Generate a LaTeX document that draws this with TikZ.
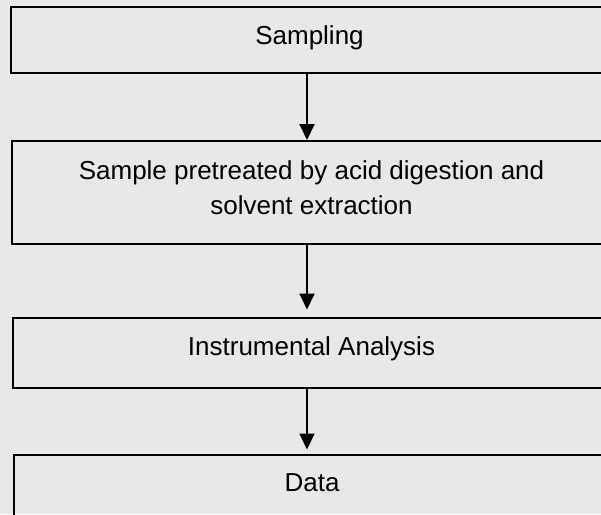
\documentclass[tikz,border=0pt]{standalone}
\usepackage{fontspec}
\setmainfont{Liberation Sans}
\usepackage{tikz}
\usetikzlibrary{arrows.meta}
\definecolor{bggray}{RGB}{232,232,232}
\tikzstyle{stage} = [draw, line width=2pt, anchor=north west, minimum width=650pt, inner sep=0pt]
\tikzstyle{caption} = [align=center, font=\fontsize{26}{35}\selectfont, inner sep=0pt]
\tikzstyle{flow} = [line width=2pt, -{Triangle[width=15pt,length=16pt]}]

\begin{document}
\begin{tikzpicture}[x=1pt, y=-1pt]
				\path[fill=bggray, use as bounding box] (0,0) rectangle (601,514);
				\clip (0,0) rectangle (601,514);
				
				% boxes, running off the right edge
				\node [stage, minimum height=66.3pt] (B1) at (9.5,5.7) {};
				\node [stage, minimum height=103pt]  (B2) at (10.5,140) {};
				\node [stage, minimum height=70pt]   (B3) at (11.5,316.5) {};
				\node [stage, minimum height=90pt]   (B4) at (12.5,453.5) {};
				
				\node [caption, anchor=base] (T1) at (309.5,44.5) {Sampling};
				\node [caption] (T2) at (311.5,188) {Sample pretreated by acid digestion and\\solvent extraction};
				\node [caption, anchor=base] (T3) at (311.5,355) {Instrumental Analysis};
				\node [caption, anchor=base] (T4) at (312,491.7) {Data};
				
				\coordinate (spine) at (307,0);
				\draw [flow] (B1.south -| spine) -- (B2.north -| spine);
				\draw [flow, shorten >=7pt] (B2.south -| spine) -- (B3.north -| spine);
				\draw [flow, shorten >=4pt] (B3.south -| spine) -- (B4.north -| spine);
				
\end{tikzpicture}
\end{document}
